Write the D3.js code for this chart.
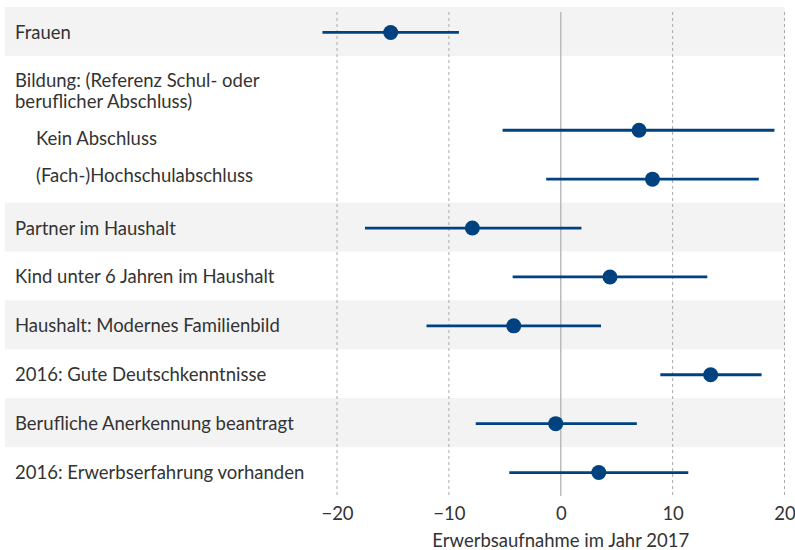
<!DOCTYPE html>
<html>
<head>
<meta charset="utf-8">
<script src="https://cdn.jsdelivr.net/npm/d3@7"></script>
<style>
  body { margin: 0; background: #fff; }
  text { font-family: Lato, "Noto Sans", sans-serif; fill: #333; }
</style>
</head>
<body>
<svg id="chart" width="795" height="550"></svg>
<script>
// rows, top to bottom
const labels = [
  'Frauen',
  'Bildung: (Referenz Schul- oder|beruflicher Abschluss)',
  'Kein Abschluss',
  '(Fach-)Hochschulabschluss',
  'Partner im Haushalt',
  'Kind unter 6 Jahren im Haushalt',
  'Haushalt: Modernes Familienbild',
  '2016: Gute Deutschkenntnisse',
  'Berufliche Anerkennung beantragt',
  '2016: Erwerbserfahrung vorhanden'
];
const indented = [false, false, true, true, false, false, false, false, false, false];
const shaded = [true, false, false, false, true, false, true, false, true, false];
// estimates (null = header row without estimate)
const estimate = [-15.2, null, 7.0, 8.2, -7.9, 4.4, -4.2, 13.4, -0.45, 3.4];
const lower = [-21.3, null, -5.2, -1.3, -17.5, -4.3, -12.0, 8.9, -7.6, -4.6];
const upper = [-9.1, null, 19.1, 17.7, 1.85, 13.1, 3.6, 17.95, 6.8, 11.4];
const xTicks = [-20, -10, 0, 10, 20];
const xTitle = 'Erwerbsaufnahme im Jahr 2017';

const blue = '#00427f';
const fontSize = '18.5px';
const svg = d3.select('#chart');

const x = d3.scaleLinear().domain([-20, 20]).range([337, 784.5]);
const y = d3.scaleBand().domain(d3.range(labels.length)).range([7, 496]);

// shaded rows
svg.append('g').selectAll('rect')
  .data(d3.range(labels.length).filter(i => shaded[i]))
  .enter()
  .append('rect')
  .attr('x', 5)
  .attr('width', 780)
  .attr('y', i => y(i))
  .attr('height', y.bandwidth())
  .attr('fill', '#f3f3f3');

// grid
const grid = svg.append('g');
grid.selectAll('line')
  .data(xTicks.filter(t => t !== 0))
  .enter()
  .append('line')
  .attr('x1', d => x(d)).attr('x2', d => x(d))
  .attr('y1', 12).attr('y2', 496)
  .attr('stroke', '#aaa')
  .attr('stroke-width', 1)
  .attr('stroke-dasharray', '3,3');
grid.append('line')
  .attr('x1', x(0)).attr('x2', x(0))
  .attr('y1', 12).attr('y2', 496)
  .attr('stroke', '#bbb')
  .attr('stroke-width', 1.5);

// axis
const axis = svg.append('g')
  .attr('transform', 'translate(0,500)')
  .call(d3.axisBottom(x).tickValues(xTicks).tickSize(0).tickPadding(7)
    .tickFormat(d => d < 0 ? '\u2212' + Math.abs(d) : d));
axis.select('.domain').remove();
axis.selectAll('text')
  .style('font-size', fontSize)
  .style('font-family', 'Lato, "Noto Sans", sans-serif')
  .attr('fill', '#333');

svg.append('text')
  .attr('x', x(0))
  .attr('y', 547)
  .attr('text-anchor', 'middle')
  .style('font-size', fontSize)
  .text(xTitle);

// row labels
const labelOffset = [1, 0, 9, -3, 1, 1, 1, 1, 1, 1];
labels.forEach((lab, i) => {
  const parts = lab.split('|');
  const cy = y(i) + y.bandwidth() / 2 + labelOffset[i];
  const t = svg.append('text')
    .attr('x', indented[i] ? 36 : 15)
    .style('font-size', fontSize);
  if(parts.length === 1) {
    t.attr('y', cy).attr('dy', '0.35em').text(lab);
  } else {
    parts.forEach((p, k) => {
      t.append('tspan')
        .attr('x', 15)
        .attr('y', cy + (k - 0.5) * 21 + 11)
        .attr('dy', '0.35em')
        .text(p);
    });
  }
});

// intervals and points
const rows = d3.range(labels.length).filter(i => estimate[i] !== null);
svg.append('g').selectAll('line')
  .data(rows)
  .enter()
  .append('line')
  .attr('x1', i => x(lower[i]))
  .attr('x2', i => x(upper[i]))
  .attr('y1', i => y(i) + y.bandwidth() / 2 + 1)
  .attr('y2', i => y(i) + y.bandwidth() / 2 + 1)
  .attr('stroke', blue)
  .attr('stroke-width', 2.8);

svg.append('g').selectAll('circle')
  .data(rows)
  .enter()
  .append('circle')
  .attr('cx', i => x(estimate[i]))
  .attr('cy', i => y(i) + y.bandwidth() / 2 + 1)
  .attr('r', 7.5)
  .attr('fill', blue);
</script>
</body>
</html>
